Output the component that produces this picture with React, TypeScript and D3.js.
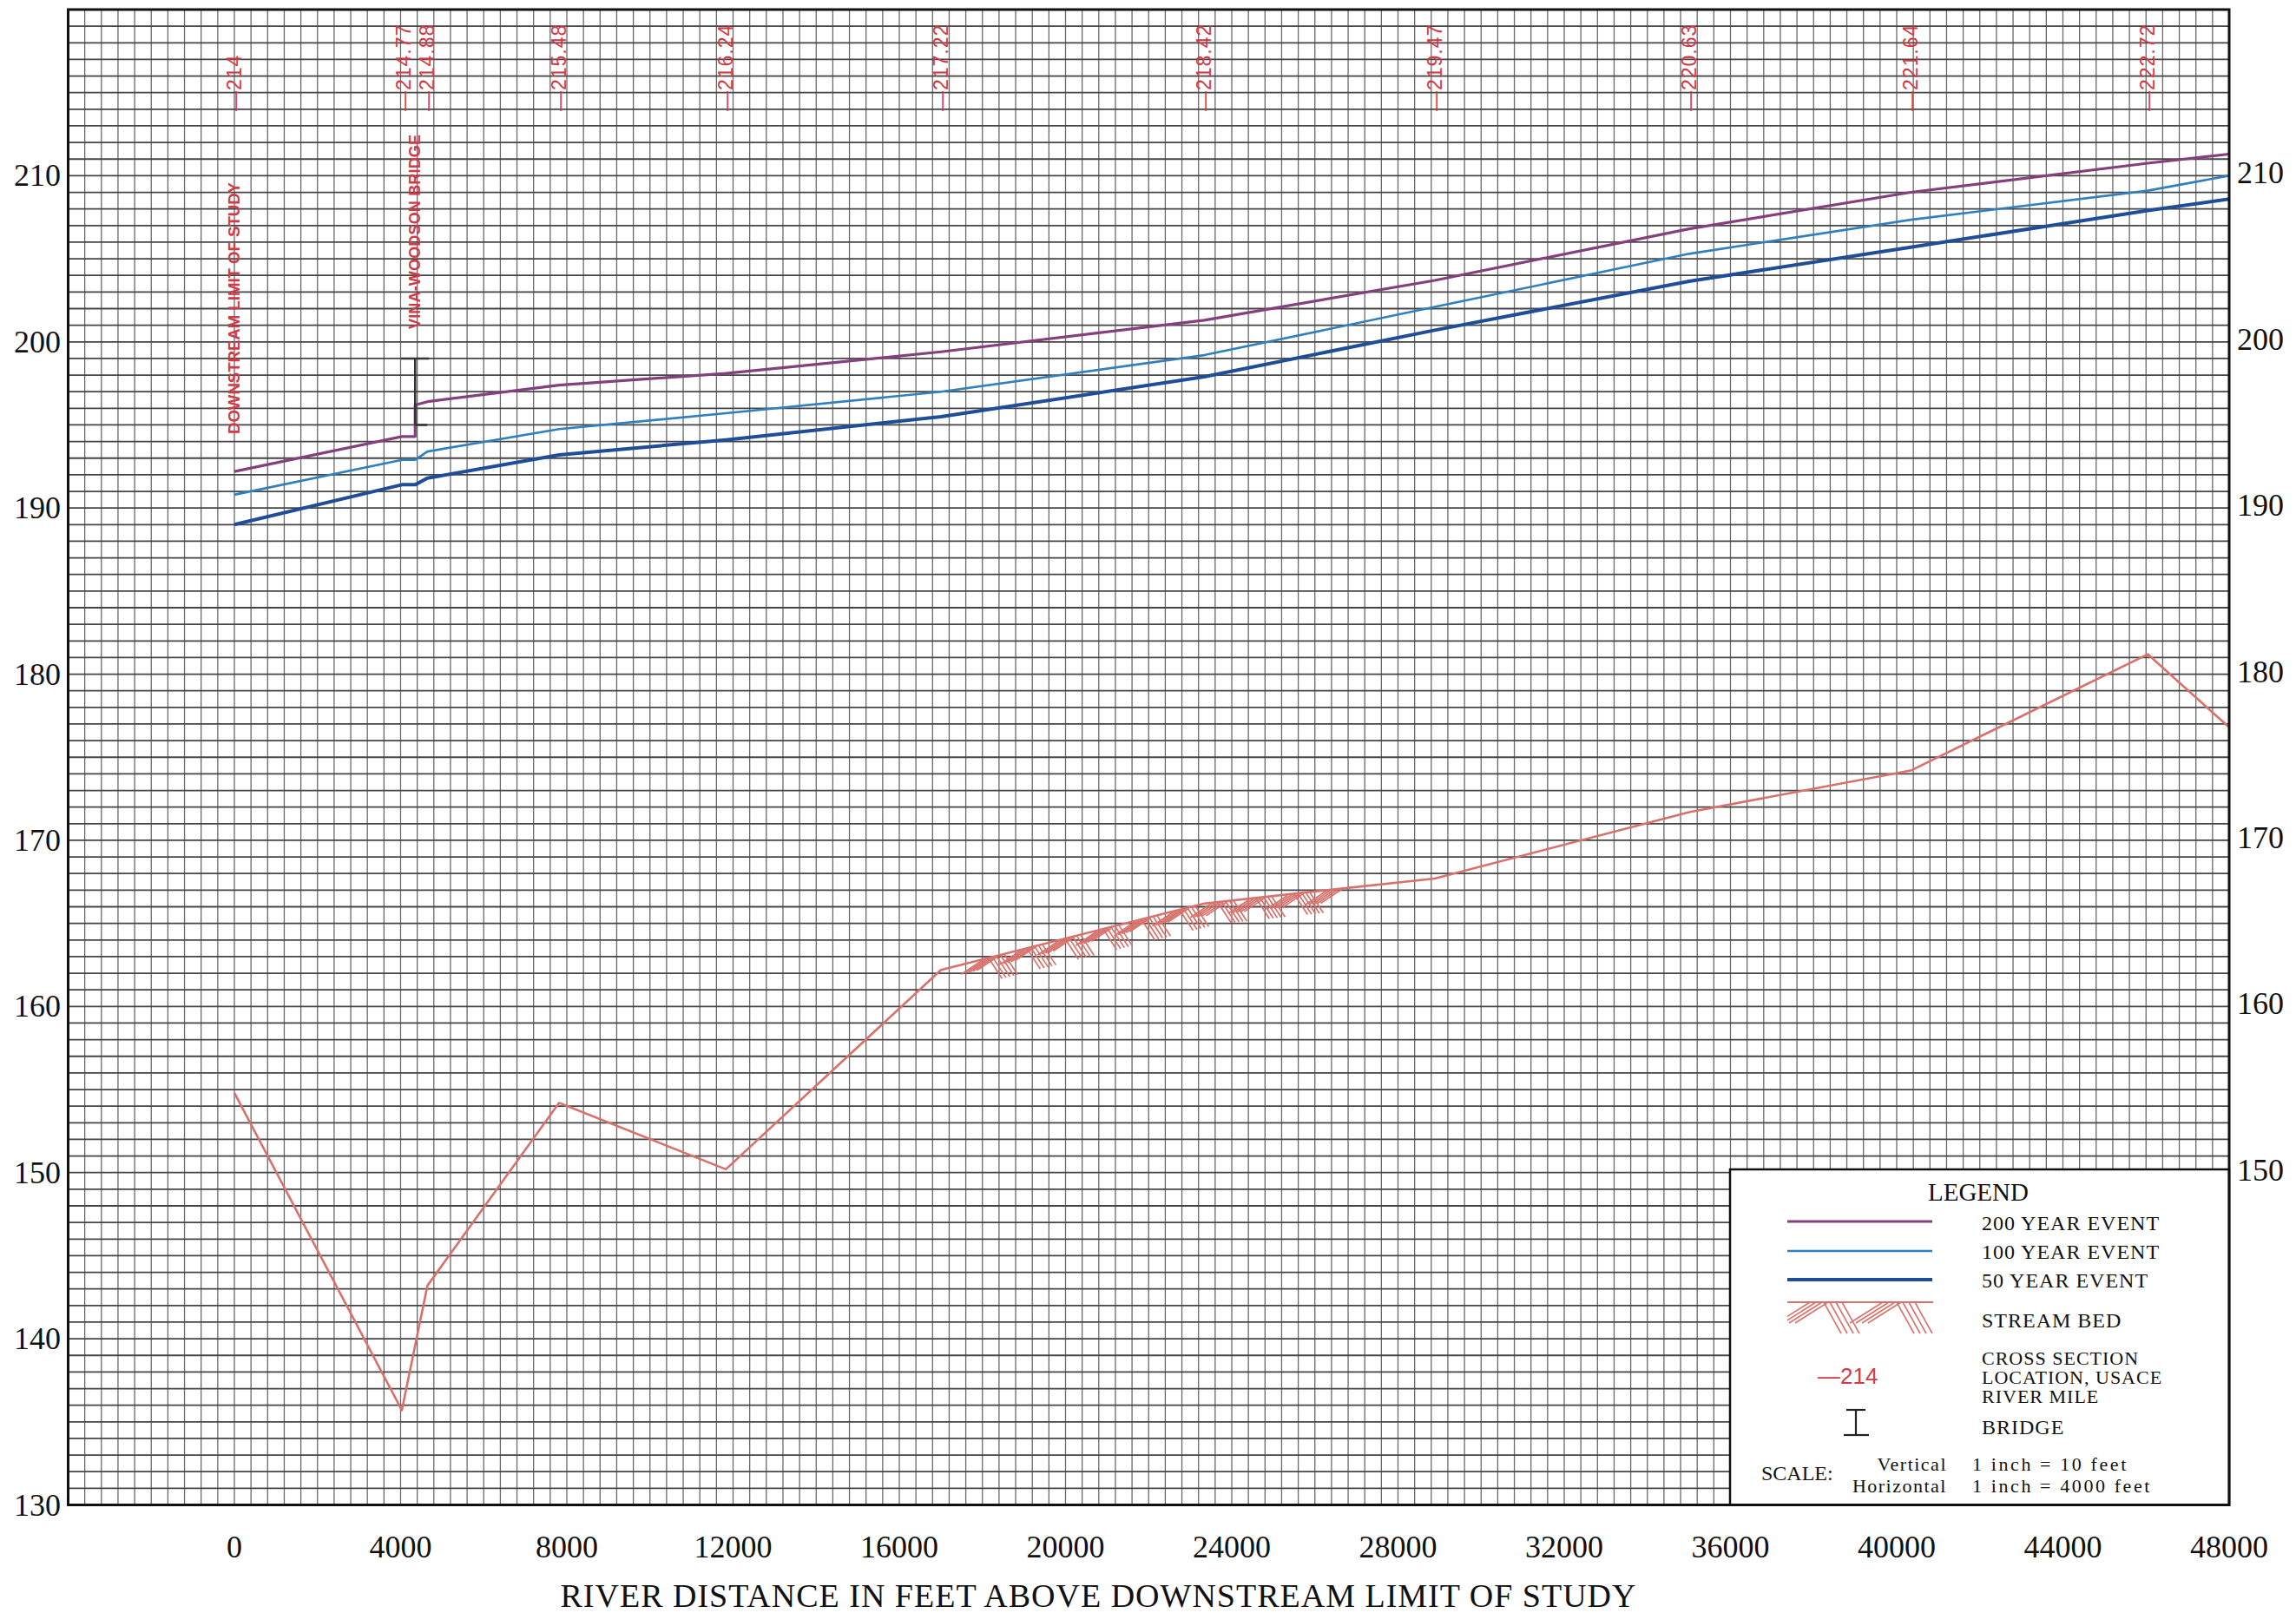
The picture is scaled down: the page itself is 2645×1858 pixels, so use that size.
import React from 'react';
import * as d3 from 'd3';

// ---------------- data ----------------
const X_TICKS = [0, 4000, 8000, 12000, 16000, 20000, 24000, 28000, 32000, 36000, 40000, 44000, 48000];
const Y_TICKS_LEFT = [130, 140, 150, 160, 170, 180, 190, 200, 210];
const Y_TICKS_RIGHT = [150, 160, 170, 180, 190, 200, 210];

const RIVER_MILES = ['214', '214.77', '214.88', '215.48', '216.24', '217.22', '218.42', '219.47', '220.63', '221.64', '222.72'];
const RIVER_MILE_FT = [0, 4066, 4646, 7814, 11827, 17002, 23338, 28882, 35006, 40339, 46042];

// water surface profiles [distance ft, elevation ft]
const WS_200: [number, number][] = [
  [0, 192.2], [4030, 194.3], [4350, 194.3], [4350, 196.2], [4646, 196.4], [7814, 197.4], [11827, 198.1],
  [17002, 199.4], [23338, 201.3], [28882, 203.7], [35006, 206.8], [40339, 209.0], [46042, 210.75], [48000, 211.3],
];
const WS_100: [number, number][] = [
  [0, 190.8], [4030, 192.9], [4350, 192.9], [4646, 193.4], [7814, 194.75], [11827, 195.7],
  [17002, 197.0], [23338, 199.2], [28882, 202.1], [35006, 205.3], [40339, 207.35], [46042, 209.1], [48000, 210.0],
];
const WS_50: [number, number][] = [
  [0, 189.0], [4030, 191.4], [4350, 191.4], [4646, 191.8], [7814, 193.2], [11827, 194.1],
  [17002, 195.5], [23338, 197.9], [28882, 200.7], [35006, 203.65], [40339, 205.7], [46042, 207.9], [48000, 208.6],
];
const STREAM_BED: [number, number][] = [
  [0, 154.8], [4030, 135.7], [4646, 143.2], [7814, 154.2], [11827, 150.2], [17002, 162.2],
  [23338, 166.2], [28882, 167.7], [35006, 171.7], [40339, 174.2], [46042, 181.2], [48000, 176.8],
];
const HATCH_RANGE = [17700, 26300];

const BRIDGE_FT = 4350;
const BRIDGE_TOP = 199.0;
const BRIDGE_LOW = 195.0;

const LEGEND_EVENTS = ['200 YEAR EVENT', '100 YEAR EVENT', '50 YEAR EVENT'];

// ---------------- styles ----------------
const C200 = '#84407c';
const C100 = '#2f80bd';
const C50 = '#1f4d98';
const CBED = '#d8716b';
const CRED = '#d43a46';
const SERIF = '"Liberation Serif", "DejaVu Serif", serif';
const SANS = '"Liberation Sans", "DejaVu Sans", sans-serif';

type Seg = { x1: number; y1: number; x2: number; y2: number };

export default function App() {
  const x = d3.scaleLinear().domain([-4000, 48000]).range([78.5, 2568]);
  const y = d3.scaleLinear().domain([130, 220]).range([1733.5, 11]);
  const line = d3.line<[number, number]>().x((d) => x(d[0])).y((d) => y(d[1]));
  const bedAt = d3.scaleLinear().domain(STREAM_BED.map((d) => d[0])).range(STREAM_BED.map((d) => d[1]));

  const x0 = x(-4000), x1 = x(48000), yTop = y(220), yBot = y(130);

  const vGrid = d3.range(-4000, 48001, 400);
  const hGrid = d3.range(130, 220.5, 1);

  // hatch along stream bed (herringbone groups)
  const hatch: Seg[] = [];
  const hx0 = x(HATCH_RANGE[0]), hx1 = x(HATCH_RANGE[1]);
  let k = 0;
  for (let gx = hx0; gx < hx1; gx += 22, k++) {
    for (let i = 0; i < 5; i++) {
      if (k % 2 === 0) {
        const tx = gx + 14 + i * 4.5;
        const ty = y(bedAt(x.invert(tx)));
        hatch.push({ x1: tx, y1: ty + 1, x2: tx - 24, y2: ty + 17 });
      } else {
        const tx = gx + i * 4.5;
        const ty = y(bedAt(x.invert(tx)));
        hatch.push({ x1: tx, y1: ty + 1, x2: tx + 15, y2: ty + 24 });
      }
    }
  }

  // legend hatch
  const lgX0 = 2059, lgX1 = 2227, lgY = 1500;
  const lgHatch: Seg[] = [];
  let g = 0;
  for (let gx = lgX0; gx < lgX1 - 10; gx += 42, g++) {
    for (let i = 0; i < 4; i++) {
      if (g % 2 === 0) {
        const tx = gx + 26 + i * 7;
        lgHatch.push({ x1: tx, y1: lgY, x2: tx - 38, y2: lgY + 24 });
      } else {
        const tx = gx + i * 7;
        lgHatch.push({ x1: tx, y1: lgY, x2: tx + 20, y2: lgY + 36 });
      }
    }
  }
  const clipLg = (h: Seg): Seg => {
    let { x1: a, y1: b, x2: c, y2: d } = h;
    if (c < lgX0) { d = b + (d - b) * (a - lgX0) / (a - c); c = lgX0; }
    if (a > lgX1) { b = b + (d - b) * (a - lgX1) / (a - c); a = lgX1; }
    if (c > lgX1) { d = b + (d - b) * (lgX1 - a) / (c - a); c = lgX1; }
    return { x1: a, y1: b, x2: c, y2: d };
  };

  const bx = x(BRIDGE_FT);

  return (
    <svg width={2645} height={1858} style={{ position: 'absolute', left: 0, top: 0, background: '#fff' }}>
      <rect x={0} y={0} width={2645} height={1858} fill="#fff" />
      {/* grid */}
      <g>
        {vGrid.map((v) => (
          <line key={'v' + v} x1={x(v)} x2={x(v)} y1={yTop} y2={yBot} stroke="#6a6a6a" strokeWidth={1.3} />
        ))}
        {hGrid.map((v) => (
          <line key={'h' + v} x1={x0} x2={x1} y1={y(v)} y2={y(v)} stroke="#454545" strokeWidth={1.8} />
        ))}
      </g>

      {/* stream bed hatch */}
      <g stroke={CBED} strokeWidth={1.7}>
        {hatch.map((h, i) => (
          <line key={i} x1={h.x1} y1={h.y1} x2={h.x2} y2={h.y2} />
        ))}
      </g>

      {/* stream bed */}
      <path d={line(STREAM_BED) || ''} fill="none" stroke={CBED} strokeWidth={2.6} strokeLinejoin="round" />

      {/* water surface profiles */}
      <path d={line(WS_100) || ''} fill="none" stroke={C100} strokeWidth={2.6} strokeLinejoin="round" />
      <path d={line(WS_50) || ''} fill="none" stroke={C50} strokeWidth={4} strokeLinejoin="round" />
      <path d={line(WS_200) || ''} fill="none" stroke={C200} strokeWidth={3.2} strokeLinejoin="round" />

      {/* bridge */}
      <g stroke="#333" strokeWidth={2.5}>
        <line x1={bx} x2={bx} y1={y(BRIDGE_TOP)} y2={y(BRIDGE_LOW)} />
        <line x1={bx - 16} x2={bx + 16} y1={y(BRIDGE_TOP)} y2={y(BRIDGE_TOP)} />
        <line x1={bx} x2={bx + 14} y1={y(BRIDGE_LOW)} y2={y(BRIDGE_LOW)} />
      </g>

      {/* river mile labels */}
      <g fill={CRED} fontFamily={SANS} fontSize={23} letterSpacing={1}>
        {RIVER_MILES.map((m, i) => (
          <text key={m} transform={`translate(${x(RIVER_MILE_FT[i])},128) rotate(-90)`} dominantBaseline="central">
            {'\u2014' + m}
          </text>
        ))}
      </g>
      <g fill={CRED} fontFamily={SANS} fontSize={18}>
        <text transform={`translate(${x(0)},500) rotate(-90)`} dominantBaseline="central" textLength={290} lengthAdjust="spacingAndGlyphs" fontWeight="bold">
          DOWNSTREAM LIMIT OF STUDY
        </text>
        <text transform={`translate(${bx},379) rotate(-90)`} dominantBaseline="central" textLength={224} lengthAdjust="spacing" fontWeight="bold">
          VINA-WOODSON BRIDGE
        </text>
      </g>

      {/* legend box */}
      <rect x={1993} y={1347} width={x1 - 1993} height={yBot - 1347} fill="#fff" stroke="#111" strokeWidth={2.5} />
      <g fontFamily={SERIF} fill="#111">
        <text x={2279} y={1383} fontSize={29} textAnchor="middle">LEGEND</text>
        {LEGEND_EVENTS.map((t, i) => (
          <text key={t} x={2283} y={1417 + i * 33} fontSize={24} letterSpacing={1}>{t}</text>
        ))}
        <text x={2283} y={1529} fontSize={24} letterSpacing={1}>STREAM BED</text>
        <text x={2283} y={1572} fontSize={22} letterSpacing={1}>CROSS SECTION</text>
        <text x={2283} y={1594} fontSize={22} letterSpacing={1}>LOCATION, USACE</text>
        <text x={2283} y={1616} fontSize={22} letterSpacing={1}>RIVER MILE</text>
        <text x={2283} y={1652} fontSize={24} letterSpacing={1}>BRIDGE</text>
        <text x={2029} y={1705} fontSize={24}>SCALE:</text>
        <text x={2243} y={1694} fontSize={22} letterSpacing={1.5} textAnchor="end">Vertical</text>
        <text x={2243} y={1719} fontSize={22} letterSpacing={1.5} textAnchor="end">Horizontal</text>
        <text x={2272} y={1694} fontSize={22} letterSpacing={2.6}>1 inch = 10 feet</text>
        <text x={2272} y={1719} fontSize={22} letterSpacing={2.6}>1 inch = 4000 feet</text>
      </g>
      <g>
        <line x1={2059} x2={2226} y1={1407} y2={1407} stroke={C200} strokeWidth={3.2} />
        <line x1={2059} x2={2226} y1={1441} y2={1441} stroke={C100} strokeWidth={2.6} />
        <line x1={2059} x2={2226} y1={1474} y2={1474} stroke={C50} strokeWidth={4} />
        <line x1={lgX0} x2={lgX1} y1={lgY} y2={lgY} stroke={CBED} strokeWidth={2} />
        <g stroke={CBED} strokeWidth={1.6}>
          {lgHatch.map(clipLg).map((h, i) => (
            <line key={i} x1={h.x1} y1={h.y1} x2={h.x2} y2={h.y2} />
          ))}
        </g>
        <text x={2094} y={1594} fill={CRED} fontFamily={SANS} fontSize={26}>{'\u2014214'}</text>
        <g stroke="#222" strokeWidth={2.2}>
          <line x1={2138} x2={2138} y1={1624} y2={1653} />
          <line x1={2127} x2={2149} y1={1624} y2={1624} />
          <line x1={2124} x2={2153} y1={1653} y2={1653} />
        </g>
      </g>

      {/* frame */}
      <rect x={x0} y={yTop} width={x1 - x0} height={yBot - yTop} fill="none" stroke="#111" strokeWidth={3} />

      {/* axis labels */}
      <g fontFamily={SERIF} fontSize={36} fill="#111">
        {Y_TICKS_LEFT.map((v) => (
          <text key={'l' + v} x={70} y={y(v)} textAnchor="end" dominantBaseline="central">{v}</text>
        ))}
        {Y_TICKS_RIGHT.map((v) => (
          <text key={'r' + v} x={2577} y={y(v) - 3} textAnchor="start" dominantBaseline="central">{v}</text>
        ))}
        {X_TICKS.map((v) => (
          <text key={'x' + v} x={x(v)} y={1794} textAnchor="middle">{v}</text>
        ))}
      </g>
      <text x={1265} y={1851} fontFamily={SERIF} fontSize={38} textAnchor="middle" fill="#111" textLength={1239} lengthAdjust="spacing">
        RIVER DISTANCE IN FEET ABOVE DOWNSTREAM LIMIT OF STUDY
      </text>
    </svg>
  );
}
